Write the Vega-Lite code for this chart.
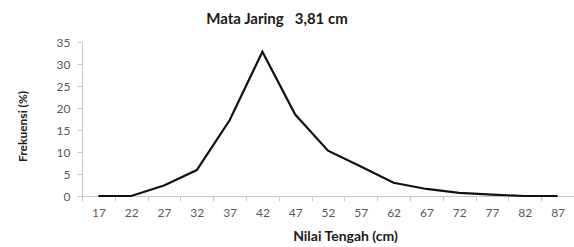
{
  "$schema": "https://vega.github.io/schema/vega-lite/v6.json",
  "autosize": {"type": "none"},
  "padding": {"left": 82, "top": 42, "right": 0, "bottom": 51},
  "width": 492,
  "height": 154,
  "background": "white",
  "title": {
    "text": "Mata Jaring\u00a0\u00a0\u00a03,81 cm",
    "font": "Lato",
    "fontSize": 15,
    "fontWeight": "bold",
    "color": "#1a1a1a",
    "anchor": "middle",
    "dx": -51,
    "offset": 9
  },
  "data": {
    "values": [
      {"nilai": "17", "frek": 0},
      {"nilai": "22", "frek": 0},
      {"nilai": "27", "frek": 2.4},
      {"nilai": "32", "frek": 5.9},
      {"nilai": "37", "frek": 17.2},
      {"nilai": "42", "frek": 32.8},
      {"nilai": "47", "frek": 18.5},
      {"nilai": "52", "frek": 10.3},
      {"nilai": "57", "frek": 6.7},
      {"nilai": "62", "frek": 3.0},
      {"nilai": "67", "frek": 1.6},
      {"nilai": "72", "frek": 0.7},
      {"nilai": "77", "frek": 0.3},
      {"nilai": "82", "frek": 0},
      {"nilai": "87", "frek": 0}
    ]
  },
  "config": {
    "view": {"stroke": null},
    "axis": {
      "grid": false,
      "domainColor": "#c8c8c8",
      "tickColor": "#c8c8c8",
      "labelColor": "#595959",
      "labelFont": "Lato",
      "labelFontSize": 12,
      "titleFont": "Lato",
      "titleFontSize": 14,
      "titleFontWeight": "bold",
      "titleColor": "#1a1a1a"
    }
  },
  "mark": {"type": "line", "color": "#111111", "strokeWidth": 2.2},
  "encoding": {
    "x": {
      "field": "nilai",
      "type": "ordinal",
      "sort": null,
      "scale": {"type": "band", "paddingInner": 0, "paddingOuter": 0},
      "axis": {
        "title": "Nilai Tengah (cm)",
        "labelAngle": 0,
        "tickBand": "extent",
        "tickSize": 5,
        "labelPadding": 6,
        "titleX": 263,
        "titleY": 33,
        "titleBaseline": "top"
      }
    },
    "y": {
      "field": "frek",
      "type": "quantitative",
      "scale": {"domain": [0, 35]},
      "axis": {
        "title": "Frekuensi (%)",
        "values": [0, 5, 10, 15, 20, 25, 30, 35],
        "tickSize": 5,
        "labelPadding": 7,
        "titleX": -60,
        "titleY": 84,
        "titleAlign": "center",
        "titleBaseline": "middle",
        "titleFontSize": 12
      }
    }
  }
}
